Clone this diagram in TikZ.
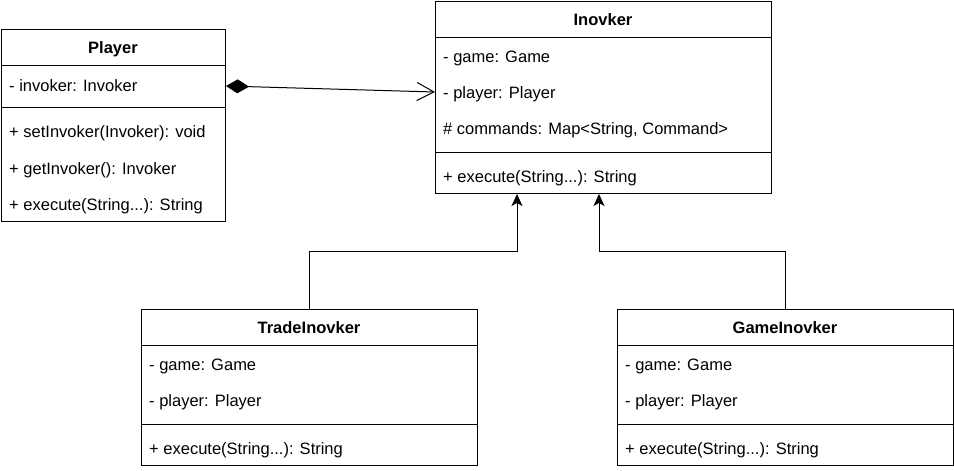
\documentclass[tikz,border=0pt]{standalone}
\usepackage{fontspec}
\setmainfont{Liberation Sans}
\usetikzlibrary{arrows.meta}
\tikzset{
  classbox/.style={draw, line width=1pt, inner sep=0pt, anchor=north west, fill=white},
  sepline/.style={line width=1pt},
  member/.style={anchor=base west, inner sep=0pt, font=\fontsize{16.5}{19}\selectfont},
  title/.style={anchor=base, inner sep=0pt, font=\fontsize{16.5}{19}\selectfont\bfseries},
  conn/.style={line width=1pt},
  inherit/.style={conn, -{Stealth[length=12pt,width=11pt,inset=3pt]}}
}
\begin{document}
\begin{tikzpicture}[x=1pt,y=-1pt]
\useasboundingbox (0,0) rectangle (954,471);
% Player
\node[classbox, minimum width=224pt, minimum height=192pt] (player) at (1,29) {};
\draw[sepline] (1,65) -- (225,65);
\draw[sepline] (1,107) -- (225,107);
\node[title] (ptitle) at (113,53) {Player};
\node[member] (p1) at (9,91) {- invoker: Invoker};
\node[member] (p2) at (9,137) {+ setInvoker(Invoker): void};
\node[member] (p3) at (9,174) {+ getInvoker(): Invoker};
\node[member] (p4) at (9,210) {+ execute(String...): String};
% Inovker
\node[classbox, minimum width=336pt, minimum height=192pt] (inv) at (435,1) {};
\draw[sepline] (435,37) -- (771,37);
\draw[sepline] (435,152) -- (771,152);
\node[title] (ititle) at (603,25) {Inovker};
\node[member] (i1) at (443,62) {- game: Game};
\node[member] (i2) at (443,98) {- player: Player};
\node[member] (i3) at (443,134) {\# commands: Map<String, Command>};
\node[member] (i4) at (443,182) {+ execute(String...): String};
% TradeInovker
\node[classbox, minimum width=336pt, minimum height=156pt] (trade) at (141,309) {};
\draw[sepline] (141,345) -- (477,345);
\draw[sepline] (141,424) -- (477,424);
\node[title] (ttitle) at (309,333) {TradeInovker};
\node[member] (t1) at (149,370) {- game: Game};
\node[member] (t2) at (149,406) {- player: Player};
\node[member] (t3) at (149,454) {+ execute(String...): String};
% GameInovker
\node[classbox, minimum width=336pt, minimum height=156pt] (game) at (617,309) {};
\draw[sepline] (617,345) -- (953,345);
\draw[sepline] (617,424) -- (953,424);
\node[title] (gtitle) at (785,333) {GameInovker};
\node[member] (g1) at (625,370) {- game: Game};
\node[member] (g2) at (625,406) {- player: Player};
\node[member] (g3) at (625,454) {+ execute(String...): String};
% connectors
\draw[conn, {Diamond[length=23pt,width=14pt]}-{Straight Barb[length=17pt,width=18pt]}]
  ([yshift=-57pt]player.north east) -- ([yshift=-91pt]inv.north west);
\draw[inherit]
  (trade.north) -- ++(0,-58) -| ([xshift=82pt]inv.south west);
\draw[inherit]
  (game.north) -- ++(0,-58) -| ([xshift=164pt]inv.south west);
\end{tikzpicture}
\end{document}
